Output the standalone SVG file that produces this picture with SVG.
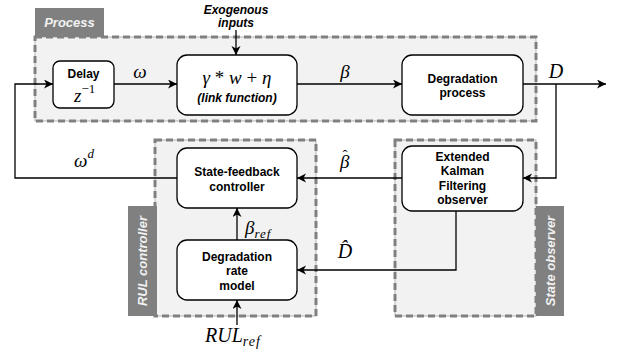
<svg xmlns="http://www.w3.org/2000/svg" width="624" height="358" viewBox="0 0 624 358">
<style>
.grp{fill:#f2f2f2;stroke:#b3b3b3;stroke-width:1}
.dash{fill:none;stroke:#808080;stroke-width:3;stroke-dasharray:7 4}
.tab{fill:#808080;stroke:none}
.tabt{font-family:"Liberation Sans",Arial,sans-serif;font-size:13px;font-weight:bold;font-style:italic;fill:#f2f2f2;text-anchor:middle}
.node{fill:#ffffff;stroke:#000;stroke-width:1.3}
.lbl{font-family:"Liberation Sans",Arial,sans-serif;font-size:12px;font-weight:bold;fill:#000;text-anchor:middle}
.math{font-family:"Liberation Serif","Times New Roman",serif;font-style:italic;fill:#000}
.up{font-style:normal}
.wire{fill:none;stroke:#000;stroke-width:1.3}
</style>
<defs>
<marker id="arr" markerUnits="userSpaceOnUse" markerWidth="10" markerHeight="10" refX="9" refY="4.5" orient="auto">
<path d="M0,0 L9,4.5 L0,9 L2.5,4.5 Z" fill="#000"/>
</marker>
</defs>

<g id="process-group">
<rect class="grp" x="35" y="37" width="501" height="84"/>
<rect class="dash" x="35" y="37" width="501" height="84"/>
<rect class="tab" x="35" y="8" width="69" height="29"/>
<text class="tabt" x="69.5" y="27">Process</text>
</g>
<g id="rul-controller-group">
<rect class="grp" x="155" y="140" width="161" height="176"/>
<rect class="dash" x="155" y="140" width="161" height="176"/>
<rect class="tab" x="128" y="206" width="29" height="110"/>
<text class="tabt" transform="translate(147,261) rotate(-90)" x="0" y="0">RUL controller</text>
</g>
<g id="state-observer-group">
<rect class="grp" x="395" y="140" width="141" height="176"/>
<rect class="dash" x="395" y="140" width="141" height="176"/>
<rect class="tab" x="536" y="206" width="28" height="110"/>
<text class="tabt" transform="translate(555,261) rotate(-90)" x="0" y="0">State observer</text>
</g>

<g id="connectors">
<path class="wire" d="M177,178 H15 V84 H53" marker-end="url(#arr)"/>
<path class="wire" d="M114,84 H177" marker-end="url(#arr)"/>
<path class="wire" d="M236,30 V55" marker-end="url(#arr)"/>
<path class="wire" d="M297,84 H402" marker-end="url(#arr)"/>
<path class="wire" d="M523,84 H606" marker-end="url(#arr)"/>
<path class="wire" d="M556,84 V178 H523" marker-end="url(#arr)"/>
<path class="wire" d="M402,178 H297" marker-end="url(#arr)"/>
<path class="wire" d="M456,211 V270 H297" marker-end="url(#arr)"/>
<path class="wire" d="M237,240 V208" marker-end="url(#arr)"/>
<path class="wire" d="M237,325 V300" marker-end="url(#arr)"/>
<text class="math" x="140" y="78" font-size="19" text-anchor="middle">ω</text>
<text class="math" x="345" y="78" font-size="19" text-anchor="middle">β</text>
<text class="math" x="556" y="78" font-size="20" text-anchor="middle">D</text>
<text class="math" x="74" y="167" font-size="19">ω<tspan font-size="13" dy="-9">d</tspan></text>
<text class="math" x="340" y="168" font-size="19">β<tspan class="up" font-size="15" dx="-7" dy="-8">ˆ</tspan></text>
<text class="math" x="345" y="258" font-size="20" text-anchor="middle">D̂</text>
<text class="math" x="245" y="234" font-size="19">β<tspan font-size="13" dy="4" letter-spacing="1">ref</tspan></text>
<text class="math" x="205" y="342" font-size="20">RUL<tspan font-size="14" dy="4" letter-spacing="1">ref</tspan></text>
<text class="lbl" x="236" y="14" font-style="italic">Exogenous</text>
<text class="lbl" x="236" y="27" font-style="italic">inputs</text>
</g>

<g id="node-delay">
<rect class="node" x="53" y="61" width="61" height="47" rx="7"/>
<text class="lbl" x="83.5" y="78">Delay</text>
<text class="math" x="74" y="102" font-size="19">z<tspan class="up" font-size="13" dy="-9">−1</tspan></text>
</g>
<g id="node-link">
<rect class="node" x="177" y="55" width="120" height="60" rx="10"/>
<text class="math" x="237" y="84" font-size="19" text-anchor="middle">γ <tspan class="up">*</tspan> w <tspan class="up">+</tspan> η</text>
<text class="lbl" x="237" y="102" font-style="italic">(link function)</text>
</g>
<g id="node-degradation">
<rect class="node" x="402" y="55" width="121" height="60" rx="10"/>
<text class="lbl" x="462.5" y="83">Degradation</text>
<text class="lbl" x="462.5" y="97">process</text>
</g>
<g id="node-ekf">
<rect class="node" x="402" y="146" width="121" height="65" rx="10"/>
<text class="lbl" x="462.5" y="161">Extended</text>
<text class="lbl" x="462.5" y="175">Kalman</text>
<text class="lbl" x="462.5" y="190">Filtering</text>
<text class="lbl" x="462.5" y="204">observer</text>
</g>
<g id="node-sfc">
<rect class="node" x="177" y="148" width="120" height="60" rx="10"/>
<text class="lbl" x="237" y="176">State-feedback</text>
<text class="lbl" x="237" y="191">controller</text>
</g>
<g id="node-drm">
<rect class="node" x="177" y="240" width="120" height="60" rx="10"/>
<text class="lbl" x="237" y="261">Degradation</text>
<text class="lbl" x="237" y="275">rate</text>
<text class="lbl" x="237" y="290">model</text>
</g>
</svg>
